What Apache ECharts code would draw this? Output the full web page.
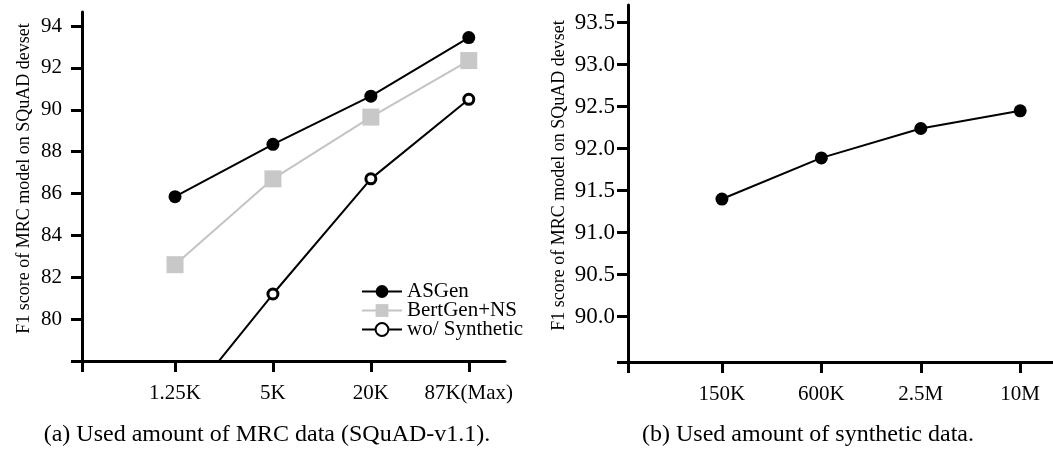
<!DOCTYPE html>
<html>
<head>
<meta charset="utf-8">
<script src="https://cdn.jsdelivr.net/npm/echarts@6/dist/echarts.min.js"></script>
<style>
  html, body { margin: 0; padding: 0; background: #fff; }
  #main { width: 1053px; height: 453px; }
</style>
</head>
<body>
<div id="main"></div>
<script>
var chart = echarts.init(document.getElementById("main"));

// (a) MRC data
var mrcLabels = ['1.25K', '5K', '20K', '87K(Max)'];
var mrcX = [1, 2, 3, 4];
var asgen = [85.85, 88.35, 90.65, 93.45];
var bertgen = [82.6, 86.7, 89.65, 92.35];
var woSynth = [75.4, 81.2, 86.7, 90.5];
var leftYTicks = [80, 82, 84, 86, 88, 90, 92, 94];

// (b) synthetic data
var synLabels = ['150K', '600K', '2.5M', '10M'];
var synX = [1, 2, 3, 4];
var synScore = [91.4, 91.89, 92.24, 92.45];
var rightYTicks = [90.0, 90.5, 91.0, 91.5, 92.0, 92.5, 93.0, 93.5];

var font = 'Liberation Serif';

function pairs(xs, ys) {
    return xs.map(function (x, i) { return [x, ys[i]]; });
}

function xAxisOf(gridIndex, min, max, ticks, labels) {
    return {
        type: 'value', gridIndex: gridIndex, min: min, max: max,
        splitLine: { show: false },
        axisLine: { lineStyle: { color: '#000', width: 3 } },
        axisTick: { show: true, inside: false, length: 11, lineStyle: { color: '#000', width: 3 },
            customValues: [min].concat(ticks) },
        axisLabel: {
            customValues: ticks, margin: 22, color: '#000', fontFamily: font, fontSize: 21,
            formatter: function (v) { return labels[ticks.indexOf(v)] || ''; }
        }
    };
}

function yAxisOf(gridIndex, min, max, ticks, digits, labelSize, labelMargin, nameGap) {
    return {
        type: 'value', gridIndex: gridIndex, min: min, max: max,
        name: 'F1 score of MRC model on SQuAD devset',
        nameLocation: 'middle', nameGap: nameGap, nameRotate: 90,
        nameTextStyle: { color: '#000', fontFamily: font, fontSize: 18, padding: [0, 0, 0, 16] },
        splitLine: { show: false },
        axisLine: { lineStyle: { color: '#000', width: 3 } },
        axisTick: { show: true, inside: false, length: 11, lineStyle: { color: '#000', width: 3 },
            customValues: [min].concat(ticks) },
        axisLabel: {
            customValues: ticks, margin: labelMargin, color: '#000', fontFamily: font, fontSize: labelSize,
            formatter: function (v) { return v.toFixed(digits); }
        }
    };
}

option = {
    backgroundColor: '#fff',
    animation: false,
    title: [
        { text: '(a) Used amount of MRC data (SQuAD-v1.1).', left: 262, top: 418, textAlign: 'center',
          textStyle: { color: '#000', fontFamily: font, fontSize: 24, fontWeight: 'normal' } },
        { text: '(b) Used amount of synthetic data.', left: 803, top: 418, textAlign: 'center',
          textStyle: { color: '#000', fontFamily: font, fontSize: 24, fontWeight: 'normal' } }
    ],
    grid: [
        { left: 82, right: 548, top: 12, bottom: 92 },
        { left: 628, right: 0, top: 5, bottom: 91 }
    ],
    legend: {
        orient: 'vertical', left: 356, top: 276, itemWidth: 40, itemHeight: 16, itemGap: -2,
        textStyle: { color: '#000', fontFamily: font, fontSize: 21 },
        data: ['ASGen', 'BertGen+NS', 'wo/ Synthetic']
    },
    xAxis: [
        xAxisOf(0, 0.05, 4.37, mrcX, mrcLabels),
        xAxisOf(1, 0.055, 4.33, synX, synLabels)
    ],
    yAxis: [
        yAxisOf(0, 78, 94.67, leftYTicks, 0, 21, 20, 49),
        yAxisOf(1, 89.46, 93.71, rightYTicks, 1, 23, 13, 60)
    ],
    series: [
        {
            name: 'ASGen', type: 'line', xAxisIndex: 0, yAxisIndex: 0,
            data: pairs(mrcX, asgen), symbol: 'circle', symbolSize: 13,
            lineStyle: { color: '#000', width: 2 }, itemStyle: { color: '#000' }
        },
        {
            name: 'BertGen+NS', type: 'line', xAxisIndex: 0, yAxisIndex: 0,
            data: pairs(mrcX, bertgen), symbol: 'rect', symbolSize: 17,
            lineStyle: { color: '#c4c4c4', width: 2 }, itemStyle: { color: '#c8c8c8' }
        },
        {
            name: 'wo/ Synthetic', type: 'line', xAxisIndex: 0, yAxisIndex: 0,
            data: pairs(mrcX, woSynth), symbol: 'circle', symbolSize: 10, showAllSymbol: true,
            lineStyle: { color: '#000', width: 2 },
            itemStyle: { color: '#fff', borderColor: '#000', borderWidth: 3 }
        },
        {
            name: 'synthetic', type: 'line', xAxisIndex: 1, yAxisIndex: 1,
            data: pairs(synX, synScore), symbol: 'circle', symbolSize: 13,
            lineStyle: { color: '#000', width: 2 }, itemStyle: { color: '#000' }
        }
    ]
};

chart.setOption(option);

window.addEventListener("resize", function () {
    chart.resize();
});
</script>
</body>
</html>
